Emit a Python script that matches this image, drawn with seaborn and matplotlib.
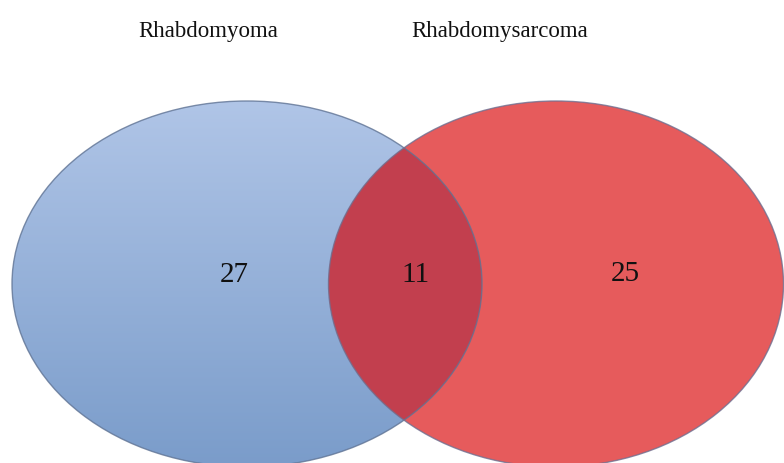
import numpy as np
import matplotlib
matplotlib.use("Agg")
import matplotlib.pyplot as plt
from matplotlib.patches import Ellipse
import seaborn as sns

set_names = ["Rhabdomyoma", "Rhabdomysarcoma"]
only_counts = [27, 25]
shared_count = 11

sns.set_style("white")
plt.rcParams['font.family'] = ['Liberation Serif', 'DejaVu Serif']

fig = plt.figure(figsize=(7.84, 4.63), dpi=100)
ax = fig.add_axes([0, 0, 1, 1])
ax.set_xlim(0, 784)
ax.set_ylim(463, 0)
ax.axis("off")

# ellipse geometry (layout)
lc, lw_, lh = (247, 284), 470, 366
rc, rw, rh = (556, 284), 455, 366

# blue gradient ellipse
left = Ellipse(lc, lw_, lh, facecolor="none", edgecolor="none")
ax.add_patch(left)
top = np.array([176, 197, 231]) / 255
bot = np.array([122, 156, 202]) / 255
t = np.linspace(0, 1, 256)[:, None]
grad = top[None, :] * (1 - t) + bot[None, :] * t
img = np.repeat(grad[:, None, :], 2, axis=1)
im = ax.imshow(img, extent=(lc[0] - lw_ / 2, lc[0] + lw_ / 2, lc[1] + lh / 2, lc[1] - lh / 2),
               aspect="auto", zorder=1, interpolation="bilinear")
im.set_clip_path(left)

# red ellipse
right = Ellipse(rc, rw, rh, facecolor="#e65b5c", edgecolor="none", zorder=2)
ax.add_patch(right)

# overlap
ov = Ellipse(lc, lw_, lh, facecolor="#c23f4e", edgecolor="none", zorder=3)
ax.add_patch(ov)
ov.set_clip_path(Ellipse(rc, rw, rh, transform=ax.transData))

# outlines
ax.add_patch(Ellipse(lc, lw_, lh, facecolor="none", edgecolor="#5f7394", lw=1.0, zorder=4, alpha=0.8))
ax.add_patch(Ellipse(rc, rw, rh, facecolor="none", edgecolor="#6f6f90", lw=1.0, zorder=4, alpha=0.8))

# labels
ax.text(208, 32, set_names[0], ha="center", va="center", fontsize=16.5, color="#111111", zorder=5)
ax.text(500, 32, set_names[1], ha="center", va="center", fontsize=16.5, color="#111111", zorder=5)

ax.text(234, 275, str(only_counts[0]), ha="center", va="center", fontsize=21, color="#111111", zorder=5)
ax.text(416, 275, str(shared_count), ha="center", va="center", fontsize=21, color="#111111", zorder=5)
ax.text(625, 274, str(only_counts[1]), ha="center", va="center", fontsize=21, color="#111111", zorder=5)

fig.savefig("out.png", dpi=100)
